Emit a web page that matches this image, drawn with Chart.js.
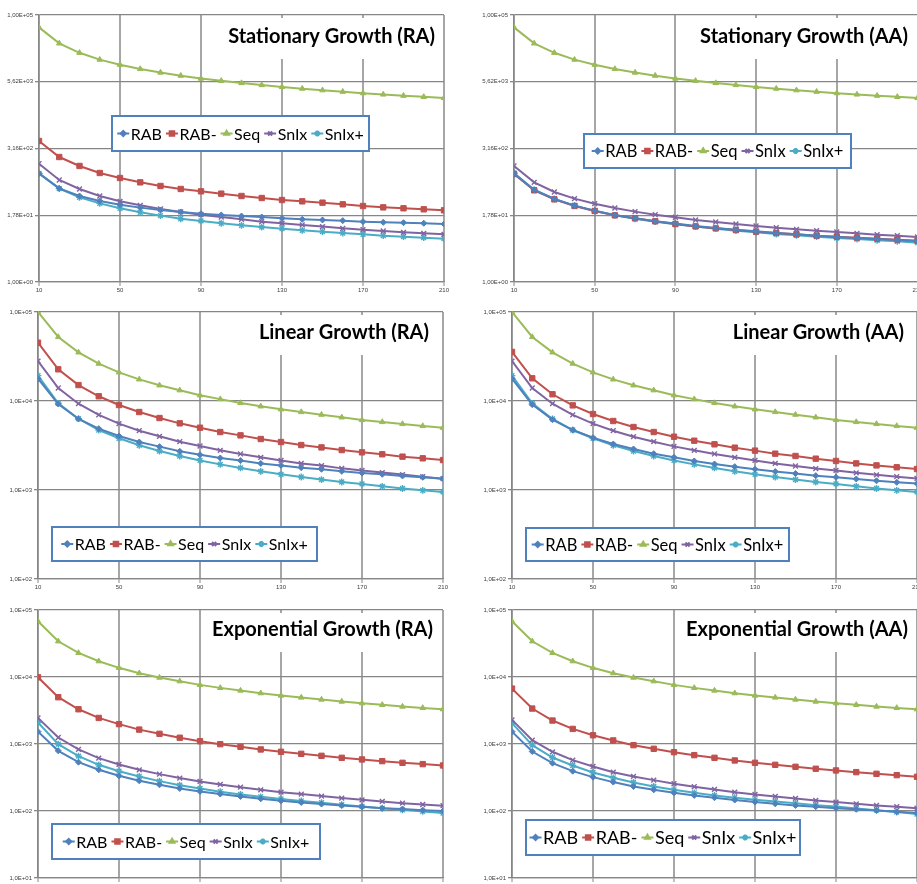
<!DOCTYPE html>
<html>
<head>
<meta charset="utf-8">
<title>Growth benchmarks</title>
<script src="https://cdn.jsdelivr.net/npm/chart.js@4.4.1/dist/chart.umd.min.js"></script>
<style>
  html, body { margin: 0; padding: 0; background: #fff; overflow: hidden; width: 917px; height: 884px; }
  canvas { position: absolute; display: block; }
</style>
</head>
<body>
<script>
// ---- shared axis data ----
const xValues = [10, 20, 30, 40, 50, 60, 70, 80, 90, 100, 110, 120, 130, 140, 150, 160, 170, 180, 190, 200, 210];
const xTickValues = [10, 50, 90, 130, 170, 210];
const seriesNames = ['RAB', 'RAB-', 'Seq', 'SnIx', 'SnIx+'];

const stationaryTicks = [1, 17.7828, 316.228, 5623.41, 100000];
const stationaryTickLabels = ['1,00E+00', '1,78E+01', '3,16E+02', '5,62E+03', '1,00E+05'];
const linearTicks = [100, 1000, 10000, 100000];
const linearTickLabels = ['1,0E+02', '1,0E+03', '1,0E+04', '1,0E+05'];
const exponentialTicks = [10, 100, 1000, 10000, 100000];
const exponentialTickLabels = ['1,0E+01', '1,0E+02', '1,0E+03', '1,0E+04', '1,0E+05'];

// ---- Stationary Growth (RA) ----
const statRA_RAB   = [108, 56.8, 40.8, 32.9, 28.1, 24.7, 22.3, 20.5, 19.0, 18.0, 17.2, 16.5, 15.6, 14.9, 14.5, 14.1, 13.5, 13.1, 12.9, 12.6, 12.2];
const statRA_RABm  = [437, 219, 149, 110, 88.6, 73.5, 62.8, 55.2, 49.9, 45.1, 40.8, 37.4, 34.3, 32.4, 30.6, 28.5, 26.5, 25.0, 24.0, 23.0, 22.0];
const statRA_Seq   = [58700, 29400, 19600, 14600, 11700, 9750, 8360, 7310, 6450, 5850, 5320, 4880, 4500, 4180, 3900, 3660, 3440, 3250, 3080, 2930, 2790];
const statRA_SnIx  = [164, 81.3, 55.2, 40.8, 32.4, 27.3, 23.3, 20.5, 18.2, 16.5, 14.9, 13.5, 12.6, 11.7, 10.9, 10.1, 9.55, 9.02, 8.51, 8.15, 7.81];
const statRA_SnIxP = [108, 56.0, 38.5, 29.7, 24.0, 20.2, 17.5, 15.3, 13.9, 12.6, 11.5, 10.7, 9.98, 9.28, 8.77, 8.28, 7.81, 7.38, 7.06, 6.76, 6.48];

// ---- Stationary Growth (AA) ----
const statAA_RAB   = [107, 52.8, 35.8, 26.9, 21.7, 18.0, 15.6, 13.7, 12.4, 11.2, 10.3, 9.55, 8.89, 8.28, 7.81, 7.38, 6.96, 6.67, 6.38, 6.12, 5.86];
const statAA_RABm  = [105, 52.1, 35.3, 26.5, 21.4, 17.7, 15.6, 13.7, 12.2, 11.0, 10.1, 9.42, 8.77, 8.28, 7.81, 7.38, 7.06, 6.76, 6.48, 6.21, 5.94];
const statAA_Seq   = [58700, 29400, 19600, 14600, 11700, 9750, 8360, 7310, 6450, 5850, 5320, 4880, 4500, 4180, 3900, 3660, 3440, 3250, 3080, 2930, 2790];
const statAA_SnIx  = [149, 73.5, 48.5, 36.4, 29.3, 24.3, 20.8, 18.2, 16.3, 14.5, 13.3, 12.2, 11.2, 10.4, 9.69, 9.15, 8.64, 8.15, 7.70, 7.38, 6.96];
const statAA_SnIxP = [110, 53.6, 35.8, 26.9, 21.4, 17.7, 15.3, 13.5, 12.0, 10.9, 9.98, 9.15, 8.51, 7.92, 7.48, 7.06, 6.67, 6.38, 6.03, 5.78, 5.46];

// ---- Linear Growth (RA) ----
const linRA_RAB   = [17800, 9250, 6280, 4890, 4040, 3460, 3070, 2720, 2490, 2290, 2140, 1990, 1890, 1780, 1710, 1620, 1550, 1500, 1440, 1390, 1340];
const linRA_RABm  = [45200, 22700, 15100, 11300, 9010, 7520, 6440, 5610, 5010, 4480, 4110, 3740, 3460, 3200, 3010, 2810, 2650, 2520, 2370, 2270, 2170];
const linRA_Seq   = [100000, 52400, 35200, 26300, 21000, 17500, 15000, 13200, 11600, 10500, 9500, 8710, 8060, 7520, 7020, 6550, 6120, 5810, 5520, 5240, 5010];
const linRA_SnIx  = [28100, 14000, 9330, 6970, 5560, 4640, 4010, 3490, 3120, 2790, 2540, 2330, 2150, 1990, 1880, 1750, 1660, 1570, 1490, 1410, 1340];
const linRA_SnIxP = [19300, 9420, 6330, 4720, 3810, 3180, 2740, 2410, 2150, 1940, 1770, 1620, 1500, 1400, 1310, 1230, 1170, 1100, 1040, 991, 951];

// ---- Linear Growth (AA) ----
const linAA_RAB   = [17800, 9100, 6170, 4720, 3870, 3290, 2890, 2560, 2330, 2120, 1960, 1830, 1710, 1610, 1530, 1450, 1390, 1330, 1270, 1220, 1180];
const linAA_RABm  = [35600, 18000, 11900, 8930, 7140, 5960, 5100, 4480, 3970, 3580, 3260, 2990, 2770, 2560, 2410, 2250, 2120, 1990, 1890, 1800, 1720];
const linAA_Seq   = [100000, 52400, 35200, 26300, 21000, 17500, 15000, 13200, 11600, 10500, 9500, 8710, 8060, 7520, 7020, 6550, 6120, 5810, 5520, 5240, 5010];
const linAA_SnIx  = [28100, 14000, 9330, 6970, 5560, 4640, 3970, 3490, 3090, 2790, 2540, 2330, 2150, 1990, 1860, 1740, 1660, 1560, 1480, 1410, 1350];
const linAA_SnIxP = [19300, 9420, 6290, 4720, 3810, 3180, 2740, 2410, 2150, 1940, 1770, 1620, 1500, 1400, 1310, 1230, 1170, 1100, 1040, 991, 951];

// ---- Exponential Growth (RA) ----
const expRA_RAB   = [1530, 791, 536, 412, 335, 282, 246, 217, 196, 179, 165, 152, 142, 134, 127, 121, 116, 110, 107, 103, 99.8];
const expRA_RABm  = [9910, 4990, 3300, 2450, 1980, 1640, 1420, 1240, 1100, 995, 908, 829, 765, 713, 666, 622, 588, 555, 524, 501, 478];
const expRA_Seq   = [67800, 34100, 22900, 17200, 13700, 11400, 9800, 8640, 7630, 6880, 6280, 5730, 5290, 4940, 4610, 4300, 4060, 3840, 3620, 3460, 3300];
const expRA_SnIx  = [2450, 1250, 829, 615, 495, 412, 355, 310, 276, 249, 227, 207, 191, 179, 167, 156, 147, 139, 131, 125, 120];
const expRA_SnIxP = [2090, 995, 659, 489, 393, 328, 279, 243, 217, 194, 177, 163, 151, 141, 133, 124, 117, 110, 104, 98.6, 93.1];

// ---- Exponential Growth (AA) ----
const expAA_RAB   = [1530, 773, 518, 393, 320, 270, 232, 207, 187, 171, 158, 146, 136, 128, 121, 116, 110, 106, 102, 97.5, 93.1];
const expAA_RABm  = [6710, 3380, 2240, 1680, 1350, 1130, 961, 848, 755, 682, 622, 568, 524, 489, 457, 427, 403, 380, 359, 343, 324];
const expAA_Seq   = [67800, 34100, 22900, 17200, 13700, 11400, 9800, 8640, 7630, 6880, 6280, 5730, 5290, 4940, 4610, 4300, 4060, 3840, 3620, 3460, 3300];
const expAA_SnIx  = [2290, 1140, 765, 574, 462, 380, 328, 289, 255, 230, 210, 191, 177, 165, 154, 144, 136, 128, 121, 116, 110];
const expAA_SnIxP = [2050, 961, 629, 478, 376, 313, 267, 232, 207, 187, 171, 158, 147, 139, 130, 122, 117, 109, 103, 96.4, 90.0];

// ---- series styling (Office palette) ----
const seriesStyles = [
  { color: '#4F81BD', pointStyle: 'rectRot',  radius: 3.0, bw: 1 },
  { color: '#C0504D', pointStyle: 'rect',     radius: 3.8, bw: 1 },
  { color: '#9BBB59', pointStyle: 'triangle', radius: 3.2, bw: 1 },
  { color: '#8064A2', pointStyle: 'crossRot', radius: 3.4, bw: 1.4 },
  { color: '#4BACC6', pointStyle: 'star',     radius: 3.4, bw: 1.4 }
];

// Title and in-plot legend, drawn on white boxes over the grid
const panelDecor = {
  id: 'panelDecor',
  afterDatasetsDraw(chart, args, o) {
    const ctx = chart.ctx, area = chart.chartArea;
    ctx.save();
    // title
    ctx.font = 'bold ' + o.titleSize + 'px Lato';
    const tw = ctx.measureText(o.title).width;
    const tx = area.right - o.titleRight;
    const ty = area.top + o.titleBaseline;
    ctx.fillStyle = '#ffffff';
    ctx.fillRect(tx - tw - 6, area.top + 3, tw + 10, o.titleBaseline + 13);
    ctx.fillStyle = '#000000';
    ctx.textAlign = 'right';
    ctx.textBaseline = 'alphabetic';
    ctx.fillText(o.title, tx, ty);

    // legend
    const L = o.legend;
    ctx.fillStyle = '#ffffff';
    ctx.fillRect(L.x, L.y, L.w, L.h);
    ctx.lineWidth = 2;
    ctx.strokeStyle = '#4F81BD';
    ctx.strokeRect(L.x, L.y, L.w, L.h);
    ctx.font = L.size + 'px Lato';
    const seg = 12, gapA = 1.5, gapB = 4;
    const items = chart.data.datasets.map(ds => ({ ds, w: ctx.measureText(ds.label).width }));
    const total = items.reduce((s, it) => s + seg + gapA + it.w, 0) + gapB * (items.length - 1);
    let x = L.x + (L.w - total) / 2;
    const cy = L.y + L.h / 2;
    items.forEach(it => {
      const ds = it.ds;
      ctx.strokeStyle = ds.borderColor;
      ctx.lineWidth = 2;
      ctx.beginPath();
      ctx.moveTo(x, cy);
      ctx.lineTo(x + seg, cy);
      ctx.stroke();
      ctx.fillStyle = ds.borderColor;
      ctx.strokeStyle = ds.borderColor;
      Chart.helpers.drawPoint(ctx, {
        pointStyle: ds.pointStyle, radius: ds.pointRadius * 0.85,
        borderWidth: ds.pointBorderWidth, rotation: 0
      }, x + seg / 2, cy);
      ctx.fillStyle = '#000000';
      ctx.textAlign = 'left';
      ctx.textBaseline = 'middle';
      ctx.fillText(ds.label, x + seg + gapA, cy + 1);
      x += seg + gapA + it.w + gapB;
    });
    ctx.restore();
  }
};

function makePanel(p) {
  const canvas = document.createElement('canvas');
  canvas.width = p.w; canvas.height = p.h;
  canvas.style.left = p.x + 'px';
  canvas.style.top = p.y + 'px';
  canvas.style.width = p.w + 'px';
  canvas.style.height = p.h + 'px';
  document.body.appendChild(canvas);

  const datasets = p.series.map((vals, i) => {
    const s = seriesStyles[i];
    return {
      label: seriesNames[i],
      data: xValues.map((x, k) => ({ x: x, y: vals[k] })),
      borderColor: s.color,
      backgroundColor: s.color,
      pointBackgroundColor: s.color,
      pointBorderColor: s.color,
      pointStyle: s.pointStyle,
      pointRadius: s.radius,
      pointBorderWidth: s.bw,
      borderWidth: 2,
      tension: 0
    };
  });

  const tickFont = { family: 'Liberation Sans', size: 6 };
  new Chart(canvas, {
    type: 'line',
    data: { datasets },
    options: {
      responsive: false,
      animation: false,
      devicePixelRatio: 1,
      layout: { padding: { left: 0, top: p.plot.t, right: p.w - p.plot.r, bottom: 0 } },
      plugins: {
        legend: { display: false },
        tooltip: { enabled: false },
        title: { display: false },
        panelDecor: {
          title: p.title, titleSize: 20, titleRight: p.titleRight, titleBaseline: p.titleBaseline,
          legend: p.legend
        }
      },
      scales: {
        x: {
          type: 'linear', min: 10, max: 210,
          afterBuildTicks: s => { s.ticks = xTickValues.map(v => ({ value: v })); },
          afterFit: s => { s.height = p.h - p.plot.b; },
          ticks: { font: tickFont, color: '#404040', padding: 1, maxRotation: 0, autoSkip: false },
          grid: { color: '#a6a6a6', lineWidth: 2, tickLength: 4, tickColor: '#868686', tickWidth: 1 },
          border: { display: true, color: '#868686', width: 1.3 }
        },
        y: {
          type: 'logarithmic', min: p.ticks[0], max: p.ticks[p.ticks.length - 1],
          afterBuildTicks: s => { s.ticks = p.ticks.map(v => ({ value: v })); },
          afterFit: s => { s.width = p.plot.l; },
          ticks: { font: tickFont, color: '#404040', padding: 2, autoSkip: false,
                   callback: (v, i) => p.tickLabels[i] },
          grid: { color: '#868686', lineWidth: 1.3, tickLength: 4 },
          border: { display: true, color: '#868686', width: 1.3 }
        }
      }
    },
    plugins: [panelDecor]
  });
}

const panels = [
  { x: 0, y: 0, w: 457, h: 300, plot: { l: 39, r: 444, t: 15, b: 282 },
    title: 'Stationary Growth (RA)', titleRight: 9, titleBaseline: 28,
    legend: { x: 112, y: 116, w: 257, h: 35, size: 16 },
    ticks: stationaryTicks, tickLabels: stationaryTickLabels,
    series: [statRA_RAB, statRA_RABm, statRA_Seq, statRA_SnIx, statRA_SnIxP] },
  { x: 457, y: 0, w: 480, h: 300, plot: { l: 57, r: 460.5, t: 15, b: 282 },
    title: 'Stationary Growth (AA)', titleRight: 9.5, titleBaseline: 28,
    legend: { x: 127, y: 134, w: 267, h: 34, size: 16.5 },
    ticks: stationaryTicks, tickLabels: stationaryTickLabels,
    series: [statAA_RAB, statAA_RABm, statAA_Seq, statAA_SnIx, statAA_SnIxP] },
  { x: 0, y: 300, w: 457, h: 300, plot: { l: 38, r: 443, t: 12, b: 279 },
    title: 'Linear Growth (RA)', titleRight: 14, titleBaseline: 27,
    legend: { x: 52, y: 227, w: 265, h: 34, size: 16 },
    ticks: linearTicks, tickLabels: linearTickLabels,
    series: [linRA_RAB, linRA_RABm, linRA_Seq, linRA_SnIx, linRA_SnIxP] },
  { x: 457, y: 300, w: 480, h: 300, plot: { l: 55, r: 460, t: 12, b: 279 },
    title: 'Linear Growth (AA)', titleRight: 13, titleBaseline: 27,
    legend: { x: 69, y: 228, w: 263, h: 33, size: 16.5 },
    ticks: linearTicks, tickLabels: linearTickLabels,
    series: [linAA_RAB, linAA_RABm, linAA_Seq, linAA_SnIx, linAA_SnIxP] },
  { x: 0, y: 600, w: 457, h: 300, plot: { l: 38, r: 443, t: 10, b: 278 },
    title: 'Exponential Growth (RA)', titleRight: 10, titleBaseline: 26,
    legend: { x: 52, y: 224, w: 268, h: 35, size: 16 },
    ticks: exponentialTicks, tickLabels: exponentialTickLabels,
    series: [expRA_RAB, expRA_RABm, expRA_Seq, expRA_SnIx, expRA_SnIxP] },
  { x: 457, y: 600, w: 480, h: 300, plot: { l: 55, r: 460, t: 10, b: 278 },
    title: 'Exponential Growth (AA)', titleRight: 9, titleBaseline: 26,
    legend: { x: 69, y: 220, w: 274, h: 35, size: 18 },
    ticks: exponentialTicks, tickLabels: exponentialTickLabels,
    series: [expAA_RAB, expAA_RABm, expAA_Seq, expAA_SnIx, expAA_SnIxP] }
];

panels.forEach(makePanel);
</script>
</body>
</html>
